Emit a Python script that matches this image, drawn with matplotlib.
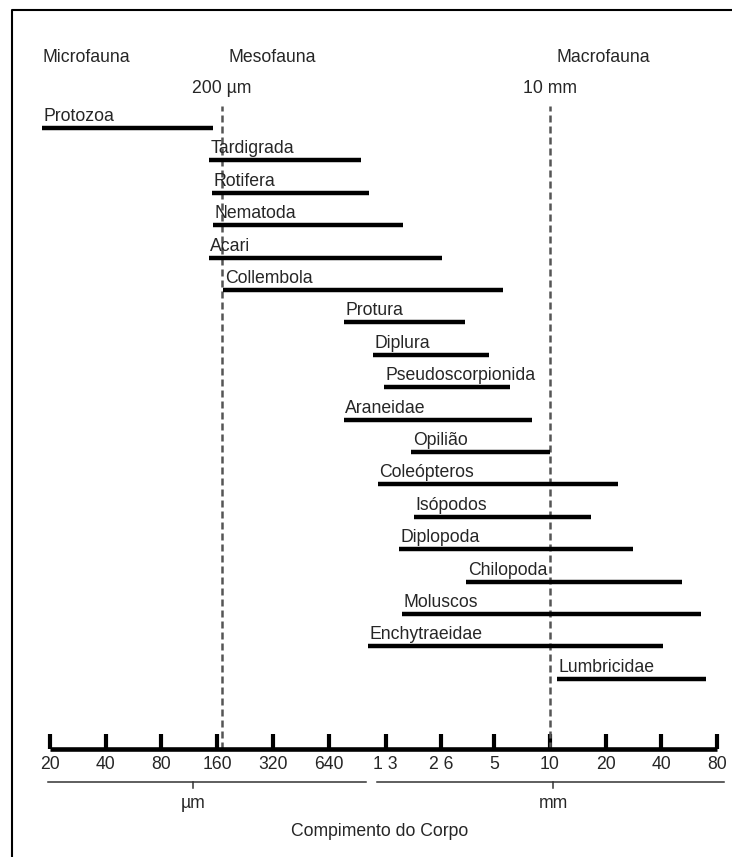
import matplotlib
matplotlib.use("Agg")
import matplotlib.pyplot as plt
from matplotlib.ticker import FixedLocator, FixedFormatter, NullLocator
from matplotlib.transforms import blended_transform_factory

plt.rcParams['font.family'] = ['Liberation Sans', 'DejaVu Sans']

# body length ranges (mm)
groups = ["Protozoa", "Tardigrada", "Rotifera", "Nematoda", "Acari", "Collembola",
          "Protura", "Diplura", "Pseudoscorpionida", "Araneidae", "Opilião",
          "Coleópteros", "Isópodos", "Diplopoda", "Chilopoda", "Moluscos",
          "Enchytraeidae", "Lumbricidae"]
size_min = [0.018, 0.144, 0.150, 0.152, 0.144, 0.172, 0.77, 1.11, 1.27, 0.77,
            1.78, 1.18, 1.85, 1.53, 3.53, 1.59, 1.04, 10.9]
size_max = [0.152, 0.956, 1.06, 1.61, 2.62, 5.59, 3.49, 4.70, 6.10, 8.02,
            10.0, 23.4, 16.7, 28.2, 51.8, 65.6, 40.9, 69.8]

tick_mm = [0.02, 0.04, 0.08, 0.16, 0.32, 0.64, 1.3, 2.6, 5, 10, 20, 40, 80]
tick_labels = ["20", "40", "80", "160", "320", "640", "1 3", "2 6", "5", "10", "20", "40", "80"]

boundaries = [0.17, 10]
boundary_labels = ["200 µm", "10 mm"]
zones = ["Microfauna", "Mesofauna", "Macrofauna"]
units = ["µm", "mm"]

W, H = 732, 857
FS = 12.7
TXT = '#262626'

fig = plt.figure(figsize=(W / 100, H / 100), dpi=100)

# overlay in pixel units for frame and captions
fr = fig.add_axes([0, 0, 1, 1])
fr.set_xlim(0, W)
fr.set_ylim(H, 0)
fr.axis('off')

# main log2 axis
axis_y = 749
ax = fig.add_axes([50 / W, (H - axis_y) / H, 667 / W, (axis_y - 10) / H])
ax.patch.set_alpha(0)
ax.set_xscale('log', base=2)
ax.set_xlim(0.02, 80)
row0, step = 128, 32.4
ax.set_ylim((axis_y - row0) / step, (10 - row0) / step)

for i, name in enumerate(groups):
    ax.plot([size_min[i], size_max[i]], [i, i], color='black', lw=3.2,
            solid_capstyle='butt', clip_on=False, zorder=3)
    ax.annotate(name, (size_min[i], i), xytext=(1.2, 5), textcoords='offset points',
                ha='left', va='baseline', fontsize=FS, color=TXT, annotation_clip=False)

top_frac = (axis_y - 106) / (axis_y - 10)
for b in boundaries:
    ax.axvline(b, 0, top_frac, color='#555555', lw=1.8, dashes=(2.8, 1.6), zorder=2)

bt = blended_transform_factory(ax.transData, fr.transData)
for b, lab in zip(boundaries, boundary_labels):
    ax.text(b, 88, lab, transform=bt, ha='center', va='center', fontsize=FS, color=TXT)

for sp in ['top', 'left', 'right']:
    ax.spines[sp].set_visible(False)
ax.spines['bottom'].set_linewidth(3.3)
ax.spines['bottom'].set_capstyle('butt')
ax.set_yticks([])
ax.xaxis.set_major_locator(FixedLocator(tick_mm))
ax.xaxis.set_major_formatter(FixedFormatter(tick_labels))
ax.xaxis.set_minor_locator(NullLocator())
ax.tick_params(axis='x', direction='in', length=11, width=3, pad=5,
               labelsize=FS, labelcolor=TXT, color='black')

# zone headings
for x, z in zip([42, 228, 556], zones):
    fr.text(x, 57, z, ha='left', va='center', fontsize=FS, color=TXT)

# unit brackets
for (x0, x1, xc), u in zip([(48, 366, 193), (377, 724, 553)], units):
    fr.plot([x0, x1], [782, 782], color='#333333', lw=1.1)
    fr.plot([xc, xc], [782, 788], color='#333333', lw=1.1)
    fr.text(xc, 803, u, ha='center', va='center', fontsize=FS, color=TXT)

fr.text(380, 832, "Compimento do Corpo", ha='center', va='center', fontsize=FS, color=TXT)

# frame
fr.plot([12, 12, W + 5], [H + 5, 10, 10], color='black', lw=1.5, clip_on=False)

fig.savefig("out.png", dpi=100)
